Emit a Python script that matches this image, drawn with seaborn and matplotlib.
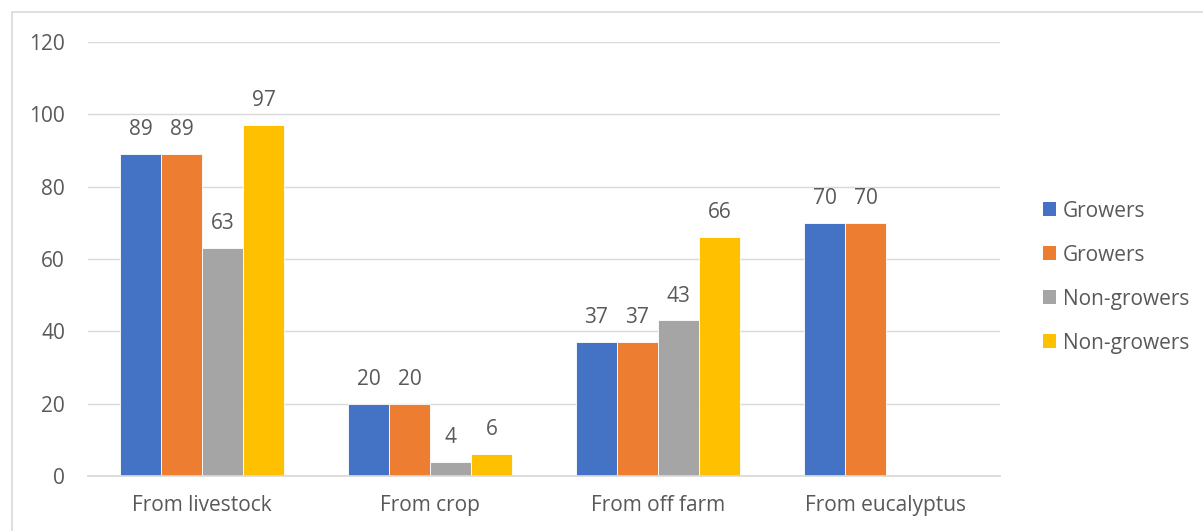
import matplotlib
matplotlib.use("Agg")
import matplotlib.pyplot as plt
from matplotlib.patches import Patch, Rectangle
import seaborn as sns
import pandas as pd
import numpy as np

categories = ["From livestock", "From crop", "From off farm", "From eucalyptus"]
series_keys = ["s1", "s2", "s3", "s4"]
series_labels = ["Growers", "Growers", "Non-growers", "Non-growers"]
s1 = [89, 20, 37, 70]
s2 = [89, 20, 37, 70]
s3 = [63, 4, 43, np.nan]
s4 = [97, 6, 66, np.nan]
colors = ["#4472C4", "#ED7D31", "#A5A5A5", "#FFC000"]
yticks = [0, 20, 40, 60, 80, 100, 120]

rows = []
for key, vals in zip(series_keys, [s1, s2, s3, s4]):
    for c, v in zip(categories, vals):
        rows.append({"category": c, "series": key, "value": v})
df = pd.DataFrame(rows)

sns.set_theme(style="white")
plt.rcParams["font.family"] = ["Open Sans", "DejaVu Sans"]
text_color = "#595959"
fs = 15

W, H = 1203, 531
fig = plt.figure(figsize=(W / 100, H / 100), dpi=100)
ax = fig.add_axes([88 / W, (531 - 476) / H, (1000 - 88) / W, (476 - 42) / H])

sns.barplot(data=df, x="category", y="value", hue="series", hue_order=series_keys,
            order=categories, palette=colors, width=0.72, ax=ax, legend=False,
            edgecolor="white", linewidth=0.6, saturation=1)

for cont in ax.containers:
    labels = ["" if np.isnan(v) else f"{v:.0f}" for v in cont.datavalues]
    ax.bar_label(cont, labels=labels, padding=10, fontsize=fs, color=text_color)

ax.set_xlim(-0.5, 3.5)
ax.set_ylim(0, 120)
ax.set_yticks(yticks)
ax.yaxis.grid(True, color="#D9D9D9", linewidth=1)
ax.set_axisbelow(True)
for s in ["top", "right", "left"]:
    ax.spines[s].set_visible(False)
ax.spines["bottom"].set_color("#D9D9D9")
ax.tick_params(axis="both", length=0, labelsize=fs, labelcolor=text_color)
ax.tick_params(axis="x", pad=14)
ax.tick_params(axis="y", pad=16.5)
ax.set_xlabel("")
ax.set_ylabel("")

handles = [Patch(facecolor=c, edgecolor="none") for c in colors]
fig.legend(handles, series_labels, loc="upper left", bbox_to_anchor=(1024 / W, 1 - 182 / H),
           frameon=False, fontsize=fs, labelcolor=text_color, handlelength=0.65,
           handleheight=0.65, handletextpad=0.3, labelspacing=1.1)

fig.patches.append(Rectangle((12 / W, -0.1), 1.2, 1 - 12 / H + 0.1, transform=fig.transFigure,
                             fill=False, edgecolor="#D9D9D9", linewidth=1.2))

fig.savefig("out.png", dpi=100)
